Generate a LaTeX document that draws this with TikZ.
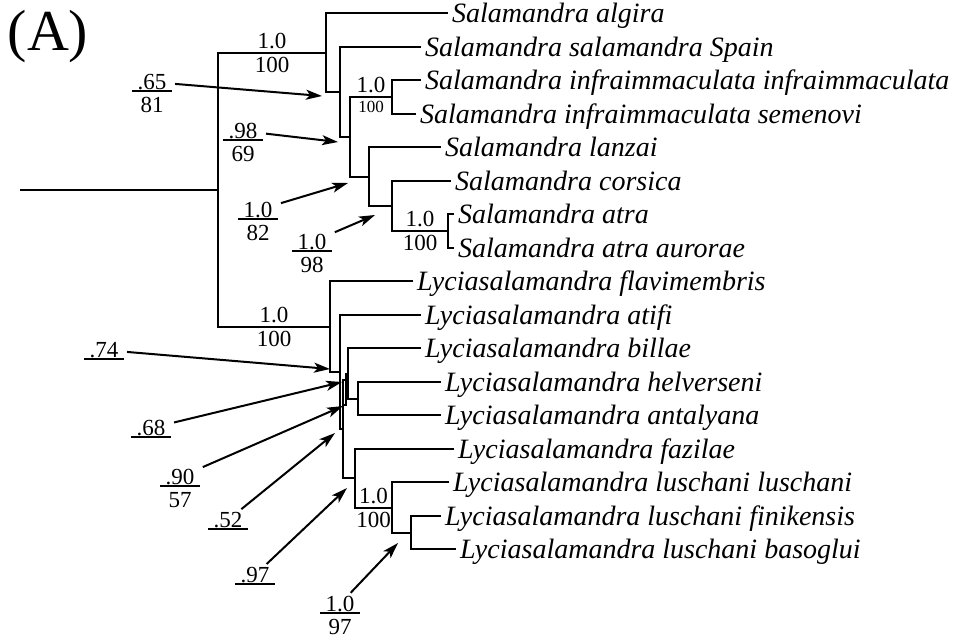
\documentclass[tikz,border=0pt]{standalone}
\usepackage{fontspec}
\setmainfont{Liberation Serif}
\usetikzlibrary{arrows.meta,positioning}
\newcommand{\leaffont}{\fontsize{28}{31}\selectfont\itshape}
\newcommand{\supfont}{\fontsize{23}{25}\selectfont}
\tikzset{
  br/.style={line width=2pt, line cap=rect},
  leaf/.style={anchor=west, font=\leaffont, inner xsep=5pt, inner ysep=0pt, text height=20pt, text depth=2pt},
  bl/.style={font=\supfont, inner sep=3pt},
  bls/.style={font=\fontsize{17}{19}\selectfont, inner sep=3pt},
  rulel/.style={line width=2pt},
  bsv/.style={font=\supfont, inner xsep=5.5pt, inner ysep=1pt,
    append after command={(\tikzlastnode.south west) edge[rulel] (\tikzlastnode.south east)}},
  bsvlow/.style={font=\supfont, inner sep=1pt},
  arr/.style={line width=2pt, -{Stealth[length=16pt,width=10pt,inset=4pt]}, shorten <=3pt},
}

\begin{document}
\begin{tikzpicture}[x=1pt, y=-1pt]
  \useasboundingbox (0,0) rectangle (963,638);
  \node[font=\fontsize{58}{62}\selectfont] (panel) at (48,37) {(A)};

  % Astknoten
  \coordinate (stem) at (21,190);
  \coordinate (root) at (218,190);
  \coordinate (sA) at (326,53);
  \coordinate (s2) at (340,92);
  \coordinate (s3) at (350,137);
  \coordinate (si) at (392,97);
  \coordinate (s5) at (369,177);
  \coordinate (s6) at (392,206);
  \coordinate (sa) at (448,231);
  \coordinate (L1) at (330,327);
  \coordinate (L2) at (340,372);
  \coordinate (L3) at (343,429);
  \coordinate (lx) at (346,380);
  \coordinate (lxb) at (343,405);
  \coordinate (lb) at (348,374);
  \coordinate (lh) at (358,399);
  \coordinate (lf) at (355,478);
  \coordinate (lu) at (392,508);
  \coordinate (lk) at (411,533);

  % Taxa
  \node[leaf] (algira) at (447,13) {Salamandra algira};
  \node[leaf] (spain) at (420,47) {Salamandra salamandra Spain};
  \node[leaf] (infra) at (420,80) {Salamandra infraimmaculata infraimmaculata};
  \node[leaf] (semen) at (415,114) {Salamandra infraimmaculata semenovi};
  \node[leaf] (lanzai) at (440,147) {Salamandra lanzai};
  \node[leaf] (corsica) at (450,181) {Salamandra corsica};
  \node[leaf] (atra) at (453,214) {Salamandra atra};
  \node[leaf] (auror) at (453,248) {Salamandra atra aurorae};
  \node[leaf] (flavi) at (412,281) {Lyciasalamandra flavimembris};
  \node[leaf] (atifi) at (420,315) {Lyciasalamandra atifi};
  \node[leaf] (billae) at (420,348) {Lyciasalamandra billae};
  \node[leaf] (helv) at (440,382) {Lyciasalamandra helverseni};
  \node[leaf] (antal) at (440,415) {Lyciasalamandra antalyana};
  \node[leaf] (fazil) at (453,449) {Lyciasalamandra fazilae};
  \node[leaf] (lusch) at (448,482) {Lyciasalamandra luschani luschani};
  \node[leaf] (finik) at (440,516) {Lyciasalamandra luschani finikensis};
  \node[leaf] (basog) at (455,549) {Lyciasalamandra luschani basoglui};

  % Baum
  \draw[br] (stem) -- (root);
  \draw[br] (root) |- (sA) node[bl, above, pos=.75] {1.0} node[bl, below, pos=.75] {100};
  \draw[br] (root) |- (L1) node[bl, above, pos=.75] {1.0} node[bl, below, pos=.75] {100};
  \draw[br] (s3) |- (si) node[bl, above, pos=.75] {1.0} node[bls, below, pos=.75] {100};
  \draw[br] (s6) |- (sa) node[bl, above, pos=.75] {1.0} node[bl, below, pos=.75] {100};
  \draw[br] (lf) |- (lu) node[bl, above, pos=.75] {1.0} node[bl, below, pos=.75] {100};
  \foreach \p/\c in {sA/algira, sA/s2, s2/spain, s2/s3, si/infra, si/semen, s3/s5,
      s5/lanzai, s5/s6, s6/corsica, sa/atra, sa/auror,
      L1/flavi, L1/L2, L2/atifi, L2/L3, L3/lx, lx/lb, lx/lxb, lb/billae, lb/lh,
      lh/helv, lh/antal, L3/lf, lf/fazil, lu/lusch, lu/lk, lk/finik, lk/basog}
    \draw[br] (\p) |- (\c);

  % Stuetzwerte mit Pfeil
  \node[bsv] (p65) at (152,82) {.65};
  \node[bsvlow, below=5pt of p65] (p65b) {81};
  \node[bsv] (p98) at (243,131) {.98};
  \node[bsvlow, below=5pt of p98] (p98b) {69};
  \node[bsv] (p82) at (258,210) {1.0};
  \node[bsvlow, below=5pt of p82] (p82b) {82};
  \node[bsv] (p98c) at (312,242) {1.0};
  \node[bsvlow, below=5pt of p98c] (p98d) {98};
  \node[bsv] (p74) at (104,350) {.74};
  \node[bsv] (p68) at (151,428) {.68};
  \node[bsv] (p90) at (180,477) {.90};
  \node[bsvlow, below=5pt of p90] (p90b) {57};
  \node[bsv] (p52) at (228,520) {.52};
  \node[bsv] (p97) at (255,575) {.97};
  \node[bsv] (p10) at (340,604) {1.0};
  \node[bsvlow, below=5pt of p10] (p10b) {97};

  \coordinate (t65) at (322,96);
  \coordinate (t98) at (338,142);
  \coordinate (t82) at (348,183);
  \coordinate (t98c) at (375,215);
  \coordinate (t74) at (330,369);
  \coordinate (t68) at (342,382);
  \coordinate (t90) at (343,406);
  \coordinate (t52) at (335,433);
  \coordinate (t97) at (347,488);
  \coordinate (t10) at (398,543);
  \foreach \a/\b in {p65/t65, p98/t98, p82/t82, p98c/t98c, p74/t74, p68/t68,
      p90/t90, p52/t52, p97/t97, p10/t10}
    \draw[arr] (\a) -- (\b);
\end{tikzpicture}
\end{document}
